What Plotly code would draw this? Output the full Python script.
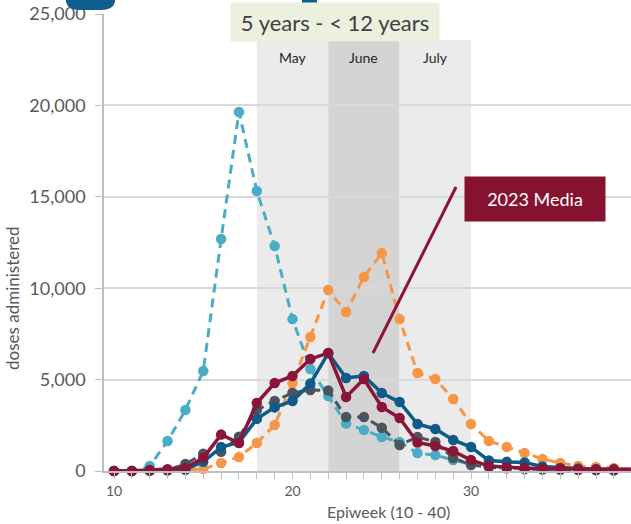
import plotly.graph_objects as go

weeks = list(range(10, 40))
x_tick_labels = ["10" if w == 10 else "20" if w == 20 else "30" if w == 30 else "" for w in weeks]
y_tick_vals = [0, 5000, 10000, 15000, 20000, 25000]

series_light_blue = [0, 0, 270, 1640, 3340, 5470, 12690, 19640, 15320, 12310, 8310, 5580, 4100, 2600, 2240,
                     1860, 1590, 980, 870, 600, 380, 200, 150, 100, 80, 60, 50, 40, 30, 30]
series_orange = [0, 0, 0, 20, 50, 110, 440, 770, 1530, 2520, 4800, 7330, 9900, 8700, 10610,
                 11920, 8310, 5360, 5030, 3940, 2570, 1640, 1310, 980, 660, 440, 270, 220, 160, 110]
series_gray = [0, 0, 30, 60, 380, 950, 1050, 1880, 3340, 3830, 4270, 4430, 4400, 2950, 2950,
               2370, 1420, 1860, 1590, 710, 330, 200, 150, 120, 100, 80, 60, 50, 40, 30]
series_blue = [0, 0, 20, 40, 80, 500, 1310, 1560, 2850, 3480, 3830, 4780, 6450, 5090, 5200,
               4270, 3770, 2570, 2300, 1700, 1310, 570, 500, 470, 250, 170, 130, 100, 80, 70]
series_maroon = [0, 0, 50, 100, 160, 720, 1990, 1530, 3720, 4810, 5200, 6130, 6450, 4050, 5030,
                 3500, 2900, 1560, 1370, 1090, 600, 270, 200, 160, 140, 120, 100, 90, 90, 90]

months = ["May", "June", "July"]
month_starts = [18, 22, 26]
month_ends = [22, 26, 30]
month_colors = ["#EBEBEB", "#D4D4D4", "#EBEBEB"]

W, H = 631, 524
L, R, T, B = 104, 0, 14, 53
PW, PH = W - L - R, H - T - B
XMIN, XMAX = 9.44, 38.96


def px_x(p):
    return (p - L) / PW


def px_y(p):
    return (H - B - p) / PH


fig = go.Figure()

styles = [
    ("Light blue", series_light_blue, "#4BACC6", "9px,6px", 3),
    ("Orange", series_orange, "#F79646", "9px,6px", 3),
    ("Gray", series_gray, "#4A545E", "9px,6px", 3),
    ("Blue", series_blue, "#0E5A8A", "solid", 3.5),
    ("2023", series_maroon, "#8A1538", "solid", 3.5),
]
for name, vals, color, dash, lw in styles:
    fig.add_trace(go.Scatter(
        x=weeks, y=vals, name=name, mode="lines+markers",
        line=dict(color=color, width=lw, dash=dash),
        marker=dict(color=color, size=10.5),
        cliponaxis=False, showlegend=False,
    ))

shapes = []
for m, s, e, c in zip(months, month_starts, month_ends, month_colors):
    shapes.append(dict(type="rect", xref="x", yref="paper", x0=s, x1=e,
                       y0=0, y1=px_y(40), fillcolor=c, line=dict(width=0), layer="below"))

# pointer line from label box
shapes.append(dict(type="line", xref="x", yref="y", x0=29.16, y0=15535, x1=24.51, y1=6455,
                   line=dict(color="#8A1538", width=3)))
# cropped title fragments at top
shapes.append(dict(type="path", xref="paper", yref="paper",
                   path=f"M {px_x(66)},{px_y(-5)} L {px_x(66)},{px_y(2)} Q {px_x(68)},{px_y(10)} {px_x(80)},{px_y(10)} "
                        f"L {px_x(101)},{px_y(10)} Q {px_x(113)},{px_y(10)} {px_x(115)},{px_y(2)} L {px_x(115)},{px_y(-5)} Z",
                   fillcolor="#0F5C8F", line=dict(width=0)))
shapes.append(dict(type="rect", xref="paper", yref="paper", x0=px_x(302), x1=px_x(317),
                   y0=px_y(9), y1=px_y(-5), fillcolor="#0F5C8F", line=dict(width=0)))

annotations = []
for m, s, e in zip(months, month_starts, month_ends):
    annotations.append(dict(text=m, xref="x", yref="paper", x=(s + e) / 2, y=px_y(58),
                            xanchor="center", yanchor="middle", showarrow=False,
                            font=dict(family="Lato", size=14, color="#262626")))

annotations.append(dict(text="5 years - < 12 years", xref="paper", yref="paper",
                        x=px_x(335), y=px_y(22), xanchor="center", yanchor="middle", showarrow=False,
                        width=206, height=36, bgcolor="#EBF0DF",
                        font=dict(family="Lato", size=22, color="#404040")))
annotations.append(dict(text="2023 Media", xref="paper", yref="paper",
                        x=px_x(535), y=px_y(199), xanchor="center", yanchor="middle", showarrow=False,
                        width=138, height=42, bgcolor="#85132F",
                        font=dict(family="Lato", size=18, color="white")))
annotations.append(dict(text="Epiweek (10 - 40)", xref="paper", yref="paper",
                        x=px_x(388), y=px_y(511), xanchor="center", yanchor="middle", showarrow=False,
                        font=dict(family="Lato", size=16, color="#595959")))
annotations.append(dict(text="doses administered", xref="paper", yref="paper",
                        x=px_x(12), y=px_y(298), xanchor="center", yanchor="middle", showarrow=False,
                        textangle=-90,
                        font=dict(family="Lato", size=17, color="#595959")))

fig.update_layout(
    width=W, height=H,
    margin=dict(l=L, r=R, t=T, b=B),
    paper_bgcolor="white", plot_bgcolor="white",
    font=dict(family="Lato", color="#595959"),
    shapes=shapes, annotations=annotations,
    xaxis=dict(range=[XMIN, XMAX], tickmode="array", tickvals=weeks, ticktext=x_tick_labels,
               ticks="outside", ticklen=6, tickcolor="#BFBFBF", tickwidth=1,
               showline=True, linecolor="#BFBFBF", linewidth=1.5, showgrid=False, zeroline=False,
               tickfont=dict(family="Lato", size=14, color="#595959")),
    yaxis=dict(range=[0, 25000], tickmode="array", tickvals=y_tick_vals, tickformat=",",
               ticks="outside", ticklen=7, tickcolor="#BFBFBF", ticklabelstandoff=6,
               showline=True, linecolor="#BFBFBF", linewidth=1.5,
               showgrid=True, gridcolor="#D9D9D9", gridwidth=1.5, zeroline=False,
               tickfont=dict(family="Lato", size=18, color="#595959")),
)

fig.write_html("out.html", config={"displayModeBar": False},
               post_script="document.body.style.margin='0';document.body.style.padding='0';")
